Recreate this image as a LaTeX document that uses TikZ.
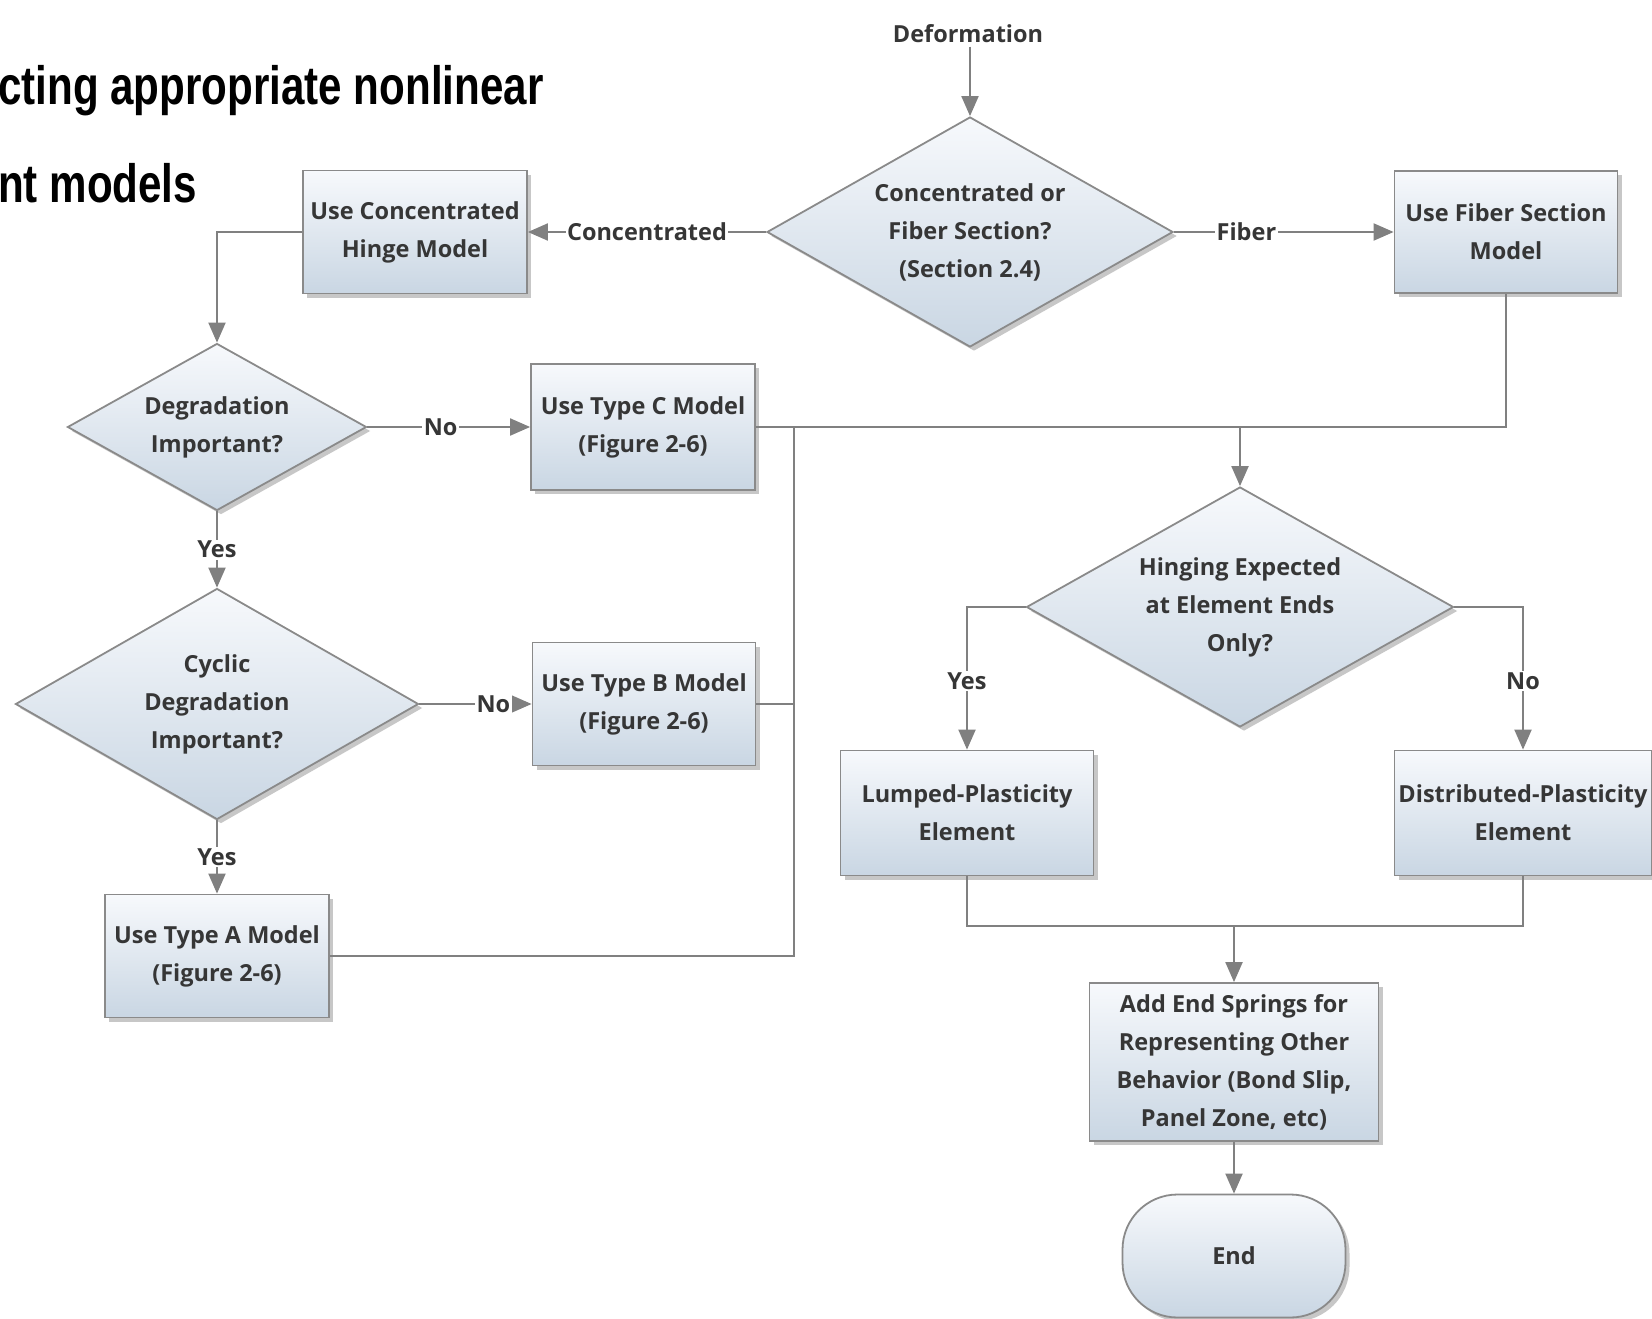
\documentclass[tikz,border=0pt]{standalone}
\usepackage{fontspec}
\setmainfont{Open Sans}
\newfontfamily\titlefont{Liberation Sans}[FakeStretch=0.78]
\usetikzlibrary{shapes.geometric,arrows.meta,shadows}
\definecolor{linegray}{HTML}{808080}
\definecolor{edgegray}{HTML}{8A8A8A}
\definecolor{txt}{HTML}{363636}
\definecolor{fillTop}{HTML}{F7F9FC}
\definecolor{fillBot}{HTML}{C9D6E3}
\tikzset{
  x=1pt, y=-1pt,
  every node/.style={font=\fontsize{23.5}{38}\selectfont\bfseries, text=txt},
  shade/.style={top color=fillTop, bottom color=fillBot, draw=edgegray, line width=1.8pt,
    drop shadow={shadow xshift=4pt, shadow yshift=-4pt, opacity=0.4, fill=black!55}},
  stepbox/.style={shade, rectangle, inner sep=0pt, align=center},
  decision/.style={shade, diamond, inner sep=0pt},
  terminal/.style={shade, rectangle, rounded corners=55pt, inner sep=0pt, align=center},
  conn/.style={draw=linegray, line width=2pt, -{Triangle[length=20pt,width=17pt]}},
  wire/.style={draw=linegray, line width=2pt},
  lbl/.style={fill=white, inner sep=1.5pt},
  dtext/.style={align=center, inner sep=0pt},
  title/.style={font=\titlefont\fontsize{54}{60}\selectfont\bfseries, text=black, anchor=base west, inner sep=0pt}
}
\begin{document}
\begin{tikzpicture}
\useasboundingbox (0,0) rectangle (1652,1319);
\fill[white] (0,0) rectangle (1652,1319);

% heading
\node[title] (t1) at (-2,105) {cting appropriate nonlinear};
\node[title] (t2) at (-2,202) {nt models};

% decisions (shape first, wording centred on top)
\node[decision, minimum width=406pt, minimum height=230pt] (d1) at (970,232) {};
\node[dtext] (d1t) at (d1.center) {Concentrated or\\Fiber Section?\\(Section 2.4)};
\node[decision, minimum width=299pt, minimum height=167pt] (d2) at (217,427) {};
\node[dtext] (d2t) at (d2.center) {Degradation\\Important?};
\node[decision, minimum width=403pt, minimum height=231pt] (d3) at (217,704) {};
\node[dtext] (d3t) at (d3.center) {Cyclic\\Degradation\\Important?};
\node[decision, minimum width=427pt, minimum height=240pt] (d4) at (1240,607) {};
\node[dtext] (d4t) at (d4.center) {Hinging Expected\\at Element Ends\\Only?};

% process boxes
\node (defo) at (968,34) {Deformation};
\node[stepbox, minimum width=224pt, minimum height=123pt] (hinge) at (415,232)
  {Use Concentrated\\Hinge Model};
\node[stepbox, minimum width=223pt, minimum height=122pt] (fiber) at (1506,232)
  {Use Fiber Section\\Model};
\node[stepbox, minimum width=224pt, minimum height=126pt] (tc) at (643,427)
  {Use Type C Model\\(Figure 2-6)};
\node[stepbox, minimum width=223pt, minimum height=123pt] (tb) at (644,704)
  {Use Type B Model\\(Figure 2-6)};
\node[stepbox, minimum width=224pt, minimum height=123pt] (ta) at (217,956)
  {Use Type A Model\\(Figure 2-6)};
\node[stepbox, minimum width=253pt, minimum height=125pt] (lump) at (967,813)
  {Lumped-Plasticity\\Element};
\node[stepbox, minimum width=257pt, minimum height=125pt] (dist) at (1523,813)
  {Distributed-Plasticity\\Element};
\node[stepbox, minimum width=289pt, minimum height=158pt] (spr) at (1234,1062)
  {Add End Springs for\\Representing Other\\Behavior (Bond Slip,\\Panel Zone, etc)};
\node[terminal, minimum width=223pt, minimum height=123pt] (endn) at (1234,1256) {End};

% junction points
\coordinate (busTop) at (794,427);
\coordinate (j1) at (1240,427);
\coordinate (j2) at (1234,926);

% connectors
\draw[conn] (defo.south -| d1.north) -- (d1.north);
\draw[conn] (d1.west) -- node[lbl]{Concentrated} (hinge.east);
\draw[conn] (d1.east) -- node[lbl,pos=0.33]{Fiber} (fiber.west);
\draw[conn] (hinge.west) -| (d2.north);
\draw[conn] (d2.east) -- node[lbl,pos=0.45]{No} (tc.west);
\draw[conn] (d2.south) -- node[lbl]{Yes} (d3.north);
\draw[conn] (d3.east) -- node[lbl,pos=0.66]{No} (tb.west);
\draw[conn] (d3.south) -- node[lbl]{Yes} (ta.north);

\draw[wire] (tc.east) -- (tc.east -| fiber.south) -- (fiber.south);
\draw[wire] (ta.east) -| (busTop);
\draw[wire] (tb.east) -- (tb.east -| busTop);
\draw[conn] (j1) -- (d4.north);

\draw[conn] (d4.west) -| node[lbl,pos=0.76]{Yes} (lump.north);
\draw[conn] (d4.east) -| node[lbl,pos=0.76]{No} (dist.north);
\draw[wire] (lump.south) |- (j2) -| (dist.south);
\draw[conn] (j2) -- (spr.north);
\draw[conn] (spr.south) -- (endn.north);
\end{tikzpicture}
\end{document}
